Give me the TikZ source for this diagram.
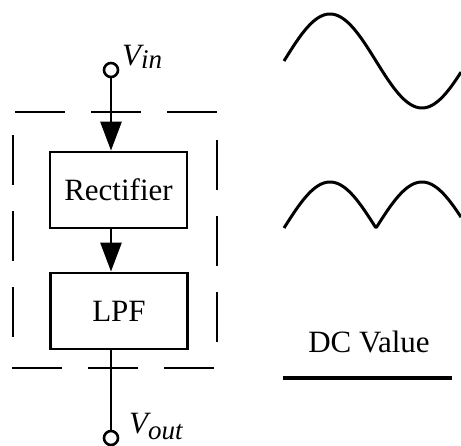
\documentclass[tikz,border=0pt]{standalone}
\usepackage{fontspec}
\setmainfont{Liberation Serif}
\usetikzlibrary{arrows.meta}
\begin{document}
\begin{tikzpicture}[x=1pt,y=-1pt,
  block/.style={draw,line width=2.8pt,minimum width=137pt,inner sep=0pt,font=\fontsize{31}{36}\selectfont},
  term/.style={circle,draw,line width=2.6pt,minimum size=14pt,inner sep=0pt},
  conn/.style={line width=2.8pt},
  flow/.style={conn,-{Triangle[length=29pt,width=21pt]}},
  dashbox/.style={line width=2.8pt,dash pattern=on 50pt off 26pt},
  wave/.style={line width=3pt,line join=round},
  lbl/.style={font=\fontsize{31}{36}\selectfont,inner sep=0pt}]
\useasboundingbox (0,0) rectangle (461,445);
% blocks
\node[block,minimum height=76pt] (rect) at (118.5,190) {Rectifier};
\node[block,minimum height=76pt] (lpf) at (119,311) {LPF};
% terminals
\node[term] (vin) at (111,70) {};
\node[term] (vout) at (111,438) {};
\node[lbl,anchor=base west] (vinl) at (122,65) {\itshape V\raisebox{-3pt}{\fontsize{27}{30}\selectfont in}};
\node[lbl,anchor=base west] (voutl) at (129,433) {\itshape V\raisebox{-6pt}{\fontsize{27}{30}\selectfont out}};
% connectors
\draw[flow] (vin) -- (vin |- rect.north);
\draw[flow] (rect.south -| vin) -- (lpf.north -| vin);
\draw[conn] (lpf.south -| vout) -- (vout);
% dashed enclosure
\draw[dashbox] (15,112) -- (218,112);
\draw[dashbox] (12,368) -- (215,368);
\draw[dashbox] (13,135) -- (13,342);
\draw[dashbox] (217,140) -- (217,343);
% waveforms
\draw[wave] plot[domain=284:461,samples=120] (\x,{61-47*sin((\x-284)/184*360)});
\draw[wave] plot[domain=284:461,samples=177] (\x,{228-46*abs(sin((\x-284)/184*360))});
\node[lbl,anchor=base] (dc) at (369,352) {DC Value};
\coordinate (dcA) at (283,378);
\coordinate (dcB) at (452,378);
\draw[line width=3.2pt] (dcA) -- (dcB);
\end{tikzpicture}
\end{document}
